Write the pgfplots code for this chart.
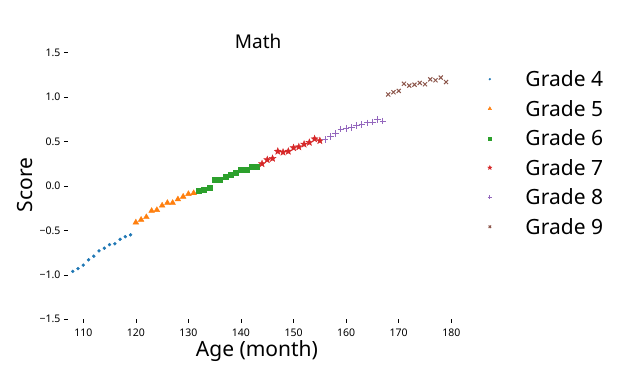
\documentclass[border=0pt]{standalone}
\usepackage{fontspec}
\setmainfont{Noto Sans}
\usepackage{pgfplots}
\pgfplotsset{compat=1.18}
\usetikzlibrary{plotmarks}
\definecolor{tabblue}{HTML}{1F77B4}
\definecolor{taborange}{HTML}{FF7F0E}
\definecolor{tabgreen}{HTML}{2CA02C}
\definecolor{tabred}{HTML}{D62728}
\definecolor{tabpurple}{HTML}{9467BD}
\definecolor{tabbrown}{HTML}{8C564B}
\pgfdeclareplotmark{fstar}{%
 \pgfpathmoveto{\pgfpointpolar{90}{\pgfplotmarksize}}%
 \pgfpathlineto{\pgfpointpolar{126}{0.42\pgfplotmarksize}}%
 \pgfpathlineto{\pgfpointpolar{162}{\pgfplotmarksize}}%
 \pgfpathlineto{\pgfpointpolar{198}{0.42\pgfplotmarksize}}%
 \pgfpathlineto{\pgfpointpolar{234}{\pgfplotmarksize}}%
 \pgfpathlineto{\pgfpointpolar{270}{0.42\pgfplotmarksize}}%
 \pgfpathlineto{\pgfpointpolar{306}{\pgfplotmarksize}}%
 \pgfpathlineto{\pgfpointpolar{342}{0.42\pgfplotmarksize}}%
 \pgfpathlineto{\pgfpointpolar{18}{\pgfplotmarksize}}%
 \pgfpathlineto{\pgfpointpolar{54}{0.42\pgfplotmarksize}}%
 \pgfpathclose
 \pgfusepathqfillstroke}
\begin{document}
\begin{tikzpicture}
\path[use as bounding box] (0,0) rectangle (640pt,371pt);
\begin{axis}[
  at={(67.5pt,51.7pt)}, anchor=south west,
  scale only axis, width=383.8pt, height=266.6pt,
  xmin=107, xmax=180, ymin=-1.5, ymax=1.5,
  xtick={110,120,130,140,150,160,170,180},
  xticklabels={110,120,130,140,150,160,170,180},
  ytick={-1.5,-1,-0.5,0,0.5,1,1.5},
  yticklabels={−1.5,−1.0,−0.5,0.0,0.5,1.0,1.5},
  tick pos=left, tick align=outside,
  major tick length=3.5pt,
  tick style={draw=black, line width=0.6pt},
  axis line style={draw=none},
  ticklabel style={font=\fontsize{10.5}{12}\selectfont, text=black},
  xticklabel style={yshift=-3pt},
  title={Math},
  title style={at={(0.497,1)}, anchor=base, yshift=-1.5pt, font=\fontsize{19}{23}\selectfont},
  xlabel={Age (month)},
  xlabel style={at={(0.4937,0)}, anchor=base, yshift=-37.7pt, font=\fontsize{21}{25}\selectfont},
  ylabel={Score},
  ylabel style={at={(0,0.504)}, anchor=base, yshift=34.8pt, font=\fontsize{21}{25}\selectfont},
  legend style={at={(1.0951,0.9287)}, anchor=north west, draw=none, fill=none,
    inner sep=0pt, outer sep=0pt,
    font=\fontsize{21}{25}\selectfont,
    nodes={inner sep=0pt, text height=15pt, text depth=0pt},
    row sep=14.5pt,
    /tikz/every odd column/.append style={column sep=33.6pt}},
  legend cell align=left,
  legend image code/.code={\draw[mark repeat=2,mark phase=2,#1,/tikz/every mark/.append style={scale=0.6}]
      plot coordinates {(0cm,0cm) (0.3cm,0cm) (0.6cm,0cm)};},
]
\addplot[only marks, mark=*, mark size=1.5pt, color=tabblue] coordinates {
(108,-0.96) (109,-0.93) (110,-0.89) (111,-0.83) (112,-0.79) (113,-0.73)
(114,-0.70) (115,-0.66) (116,-0.65) (117,-0.60) (118,-0.57) (119,-0.55)};
\addlegendentry{Grade 4}
\addplot[only marks, mark=triangle*, mark size=3.3pt, color=taborange] coordinates {
(120,-0.41) (121,-0.38) (122,-0.35) (123,-0.28) (124,-0.27) (125,-0.22)
(126,-0.19) (127,-0.19) (128,-0.15) (129,-0.12) (130,-0.09) (131,-0.08)};
\addlegendentry{Grade 5}
\addplot[only marks, mark=square*, mark size=2.5pt, color=tabgreen] coordinates {
(132,-0.05) (133,-0.04) (134,-0.02) (135,0.07) (136,0.07) (137,0.10)
(138,0.13) (139,0.15) (140,0.18) (141,0.18) (142,0.22) (143,0.22)};
\addlegendentry{Grade 6}
\addplot[only marks, mark=fstar, mark size=3.6pt, color=tabred] coordinates {
(144,0.25) (145,0.295) (146,0.31) (147,0.39) (148,0.38) (149,0.39)
(150,0.43) (151,0.44) (152,0.47) (153,0.49) (154,0.53) (155,0.51)};
\addlegendentry{Grade 7}
\addplot[only marks, mark=+, mark size=3.3pt, mark options={line width=1pt}, color=tabpurple] coordinates {
(156,0.52) (157,0.56) (158,0.59) (159,0.64) (160,0.65) (161,0.655)
(162,0.68) (163,0.69) (164,0.71) (165,0.72) (166,0.75) (167,0.73)};
\addlegendentry{Grade 8}
\addplot[only marks, mark=x, mark size=2.9pt, mark options={line width=1pt}, color=tabbrown] coordinates {
(168,1.03) (169,1.055) (170,1.07) (171,1.15) (172,1.13) (173,1.14)
(174,1.16) (175,1.145) (176,1.20) (177,1.19) (178,1.22) (179,1.17)};
\addlegendentry{Grade 9}
\end{axis}
\end{tikzpicture}
\end{document}
